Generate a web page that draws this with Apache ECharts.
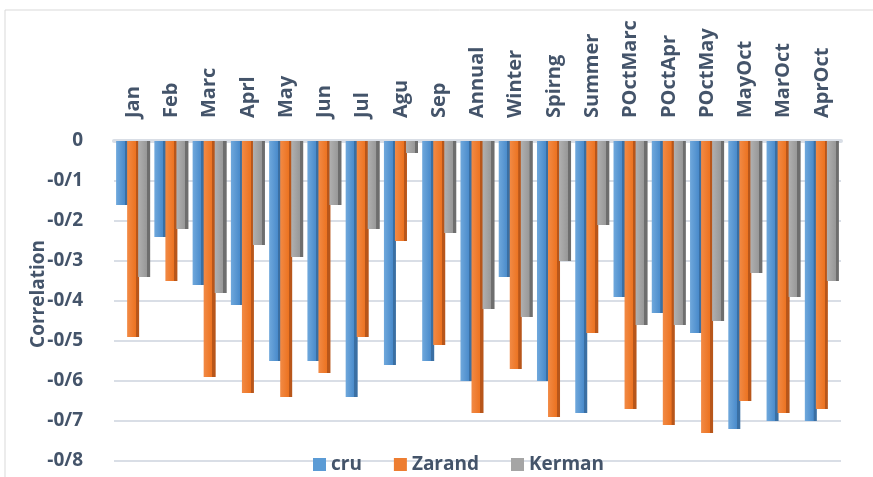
<!DOCTYPE html>
<html>
<head>
<meta charset="utf-8">
<script src="https://cdn.jsdelivr.net/npm/echarts@6/dist/echarts.min.js"></script>
<style>
  html, body { margin: 0; padding: 0; background: #fff; }
  #chart { width: 873px; height: 477px; }
</style>
</head>
<body>
<div id="chart"></div>
<script>
const categories = ["Jan", "Feb", "Marc", "Aprl", "May", "Jun", "Jul", "Agu", "Sep", "Annual",
  "Winter", "Spirng", "Summer", "POctMarc", "POctApr", "POctMay", "MayOct", "MarOct", "AprOct"];

const cru = [-0.16, -0.24, -0.36, -0.41, -0.55, -0.55, -0.64, -0.56, -0.55, -0.60,
  -0.34, -0.60, -0.68, -0.39, -0.43, -0.48, -0.72, -0.70, -0.70];
const zarand = [-0.49, -0.35, -0.59, -0.63, -0.64, -0.58, -0.49, -0.25, -0.51, -0.68,
  -0.57, -0.69, -0.48, -0.67, -0.71, -0.73, -0.65, -0.68, -0.67];
const kerman = [-0.34, -0.22, -0.38, -0.26, -0.29, -0.16, -0.22, -0.03, -0.23, -0.42,
  -0.44, -0.30, -0.21, -0.46, -0.46, -0.45, -0.33, -0.39, -0.35];

const textColor = "#44546A";
const font = "Open Sans";

// fake the excel 3d look: lit front face + darker side strip
const face = (light, main, dark) =>
  new echarts.graphic.LinearGradient(0, 0, 1, 0, [
    { offset: 0, color: light },
    { offset: 0.72, color: main },
    { offset: 0.73, color: dark },
    { offset: 1, color: dark },
  ]);

const chart = echarts.init(document.getElementById("chart"));

const makeSeries = (name, data, light, main, dark) => ({
  name,
  type: "bar",
  data,
  barWidth: 12,
  barGap: "-8%",
  itemStyle: { color: face(light, main, dark) },
});

chart.setOption({
  animation: false,
  textStyle: { fontFamily: font },
  graphic: [
    {
      type: "rect",
      shape: { x: 5, y: 10, width: 900, height: 500 },
      style: { fill: "none", stroke: "#D9D9D9", lineWidth: 1 },
      silent: true,
    },
  ],
  grid: { left: 114, right: 32, top: 141, bottom: 16, outerBoundsMode: "none" },
  legend: {
    top: 450,
    left: 308,
    itemWidth: 13,
    itemHeight: 13,
    itemGap: 32,
    icon: "rect",
    textStyle: { color: textColor, fontSize: 19, fontWeight: "bold", fontFamily: font },
    data: [
      { name: "cru", itemStyle: { color: "#5B9BD5" } },
      { name: "Zarand", itemStyle: { color: "#ED7D31" } },
      { name: "Kerman", itemStyle: { color: "#A5A5A5" } },
    ],
  },
  xAxis: {
    type: "category",
    position: "top",
    data: categories,
    axisTick: { show: false },
    axisLine: { show: true, lineStyle: { color: "#D9DEE6", width: 4 } },
    axisLabel: {
      rotate: 90,
      margin: 23,
      interval: 0,
      color: textColor,
      fontSize: 20,
      fontWeight: "bold",
      fontFamily: font,
      overflow: "none",
    },
  },
  yAxis: {
    type: "value",
    min: -0.8,
    max: 0,
    interval: 0.1,
    name: "Correlation",
    nameLocation: "middle",
    nameGap: 66,
    nameMoveOverlap: false,
    nameRotate: 90,
    nameTextStyle: {
      color: textColor,
      fontSize: 19,
      fontWeight: "bold",
      fontFamily: font,
      padding: [0, 0, 0, 14],
    },
    axisLine: { show: false },
    axisTick: { show: false },
    splitLine: { lineStyle: { color: "#D9DEE6", width: 2 } },
    axisLabel: {
      margin: 31,
      color: textColor,
      fontSize: 19,
      fontWeight: "bold",
      fontFamily: font,
      formatter: (v) => (Math.abs(v) < 1e-9 ? "0" : v.toFixed(1).replace(".", "/")),
    },
  },
  series: [
    makeSeries("cru", cru, "#6FA8DC", "#4A8BCB", "#3A6FA3"),
    makeSeries("Zarand", zarand, "#F28A45", "#EC7321", "#B8561A"),
    makeSeries("Kerman", kerman, "#B0B0B0", "#989898", "#6E6E6E"),
  ],
});

window.addEventListener("resize", () => chart.resize());
</script>
</body>
</html>
